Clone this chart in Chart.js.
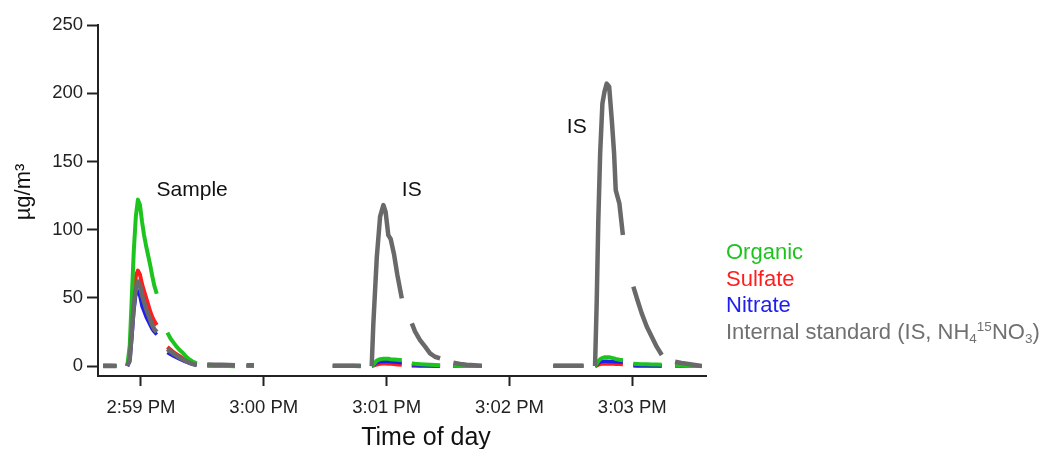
<!DOCTYPE html>
<html>
<head>
<meta charset="utf-8">
<script src="https://cdn.jsdelivr.net/npm/chart.js@4.4.1/dist/chart.umd.min.js"></script>
<style>
  html, body { margin: 0; padding: 0; background: #fff; }
  #wrap { position: relative; width: 1044px; height: 449px; overflow: hidden; }
  #legend {
    position: absolute; left: 726px; top: 239px;
    font-family: "Liberation Sans", Arial, sans-serif; font-size: 22px;
  }
  #legend div { line-height: 26.5px; height: 26.5px; white-space: nowrap; }
  #legend sub, #legend sup { font-size: 13.5px; line-height: 0; }
  #legend sub { vertical-align: -4px; }
  #legend sup { vertical-align: 8px; }
</style>
</head>
<body>
<div id="wrap">
  <canvas id="chart" width="1044" height="449"></canvas>
  <div id="legend">
    <div style="color:#1ec41e">Organic</div>
    <div style="color:#ff1e1e">Sulfate</div>
    <div style="color:#1e1eee">Nitrate</div>
    <div style="color:#707070">Internal standard (IS, NH<sub>4</sub><sup>15</sup>NO<sub>3</sub>)</div>
  </div>
</div>
<script>
// ─── DATA ─────────────────────────────────────────────────
// time = seconds after 2:59:00 PM; null rows are gaps in the record
const times = [
  -18.5, -15.2, -12, -9.3,
  -6.7, -5.5, -4.5, -3.5, -2.5, -1.5, -0.5, 0.5, 1.5, 2.5, 3.5, 4.5, 5.5, 6.5, 7.7, 10.3,
  12.9, 14.5, 16, 17.5, 19, 20.5, 22, 23.5, 25, 27.2, 30,
  32.4, 36, 39.5, 43, 45.9, 49,
  51.6, 55.2, 75,
  93.7, 97, 100.5, 104, 107.3, 110,
  112.7, 113.5, 115.2, 116.8, 118.4, 119.5, 120.8, 122, 123.6, 125.2, 127.4, 130,
  132.3, 133.9, 136.3, 138.8, 141.2, 143.6, 146.1, 149.4,
  152.6, 155.9, 159.1, 162.8, 166.5, 185,
  201.5, 205, 208.5, 212, 216.1, 219,
  221.8, 222.6, 223.4, 224.3, 225.4, 226.4, 227.5, 228.7, 230, 231.1, 231.9, 233.7, 235.4, 238,
  240.5, 242.5, 244.6, 247.1, 249.5, 251.9, 254.4, 257.6,
  260.9, 264, 267.4, 270.6, 273.9,
];

const organic = [
  0, 0, 0, null,
  0, 15, 50, 85, 110, 122, 118, 106, 96, 88, 81, 74, 66, 59, 53, null,
  24.5, 20, 17, 14, 11.5, 9.5, 7, 5, 3.5, 2, null,
  0.3, 0.2, 0, 0, -0.2, null,
  0.1, 0, null,
  0, 0, 0, 0, 0, null,
  0, 1, 4, 5, 5.3, 5.4, 5.3, 5, 4.8, 4.6, 4.2, null,
  1.8, 1.6, 1.4, 1.2, 1, 0.8, 0.6, null,
  0.2, 0.1, 0, 0, 0, null,
  0, 0, 0, 0, 0, null,
  0, 1.5, 3.5, 5, 6, 6.4, 6.5, 6.4, 6, 5.6, 5.2, 4.6, 4.2, null,
  1.6, 1.5, 1.4, 1.3, 1.2, 1.1, 1, null,
  0.3, 0.2, 0, 0, 0,
];

const sulfate = [
  0.4, 0.4, 0.3, null,
  0, 8, 30, 52, 66, 70, 67, 60, 55, 50, 45, 40, 36, 33, 30, null,
  14, 12, 10, 8.5, 7, 5.5, 4, 3, 2, 1, null,
  0.5, 0.4, 0.3, 0.3, 0.2, null,
  0.3, 0.2, null,
  0.2, 0.2, 0.2, 0.2, 0.2, null,
  0, 0.3, 1.2, 1.6, 1.8, 1.8, 1.7, 1.6, 1.4, 1.2, 1, null,
  0.3, 0.2, 0.1, 0, 0, 0, 0, null,
  0, 0, 0, 0, 0, null,
  0.2, 0.2, 0.2, 0.2, 0.2, null,
  0, 0.4, 1, 1.4, 1.6, 1.7, 1.7, 1.7, 1.6, 1.6, 1.5, 1.5, 1.4, null,
  0.2, 0.1, 0, 0, 0, 0, 0, null,
  0, 0, 0, 0, 0,
];

const nitrate = [
  0, 0, 0, null,
  0, 3, 20, 40, 53, 55, 51, 44, 40, 36, 33, 30, 27, 25, 23, null,
  10, 8.5, 7.3, 6.2, 5, 4, 3, 2.2, 1.4, 0.6, null,
  0.4, 0.3, 0.3, 0.2, 0.2, null,
  0.2, 0.1, null,
  0, 0, 0, 0, 0, null,
  0, 0.7, 2.5, 3.2, 3.4, 3.4, 3.3, 3.1, 2.9, 2.7, 2.4, null,
  0.8, 0.7, 0.6, 0.5, 0.4, 0.3, 0.3, null,
  0, 0, 0, 0, 0, null,
  0, 0, 0, 0, 0, null,
  0, 0.8, 2, 3, 3.4, 3.5, 3.5, 3.4, 3.3, 3.2, 3.1, 3, 2.9, null,
  0.7, 0.6, 0.5, 0.5, 0.4, 0.4, 0.3, null,
  0, 0, 0, 0, 0,
];

const internalStd = [
  0, 0, 0, null,
  0, 5, 25, 45, 57, 62, 59, 52, 47, 42, 38, 34, 30, 27, 25, null,
  12.5, 10.5, 9, 7.5, 6, 4.8, 3.6, 2.6, 1.6, 0.8, null,
  1.2, 1, 0.9, 0.7, 0.6, null,
  0.5, 0.5, null,
  0.3, 0.2, 0.2, 0.2, 0.1, null,
  0, 31, 80, 109.5, 118, 113, 96, 93, 82, 67, 49.6, null,
  31.3, 25.2, 19, 14.2, 9.3, 6.8, 5.6, null,
  2.4, 1.5, 0.9, 0.5, 0.2, null,
  0.3, 0.3, 0.2, 0.2, 0.2, null,
  0, 46, 107, 156, 192.6, 201, 207, 204.8, 180, 156, 129, 119, 96, null,
  58.2, 48.4, 38.6, 28.8, 21.5, 14.2, 8.1, null,
  3.2, 2.2, 1.5, 0.8, 0,
];

// x ticks (seconds after 2:59:00 PM) and their labels
const tickTimes  = [0, 60, 120, 180, 240];
const tickLabels = ['2:59 PM', '3:00 PM', '3:01 PM', '3:02 PM', '3:03 PM'];
const yTicks     = [0, 50, 100, 150, 200, 250];

// peak annotations
const notes = [
  { text: 'Sample', t: 7.6,   v: 124.6 },
  { text: 'IS',     t: 127.4, v: 124.6 },
  { text: 'IS',     t: 208,   v: 170.8 },
];

// ─── HELPERS ──────────────────────────────────────────────
const FONT = '"Liberation Sans", Arial, Helvetica, sans-serif';
const pts = vals => times.map((t, i) => ({ x: t, y: vals[i] }));

const series = (label, vals, color, width, order) => ({
  label,
  data: pts(vals),
  borderColor: color,
  backgroundColor: color,
  borderWidth: width,
  pointRadius: 0,
  tension: 0,
  spanGaps: false,
  borderJoinStyle: 'round',
  order,
});

// ─── TEXT PLUGIN (annotations + axis titles) ──────────────
const textPlugin = {
  id: 'texts',
  afterDraw(chart) {
    const { ctx, chartArea, scales: { x, y } } = chart;
    ctx.save();
    ctx.fillStyle = '#111';
    ctx.textBaseline = 'alphabetic';
    ctx.font = '21px ' + FONT;
    notes.forEach(n => {
      ctx.fillText(n.text, x.getPixelForValue(n.t), y.getPixelForValue(n.v));
    });

    // x axis title
    ctx.textAlign = 'center';
    ctx.font = '25px ' + FONT;
    ctx.fillText('Time of day', (chartArea.left + chartArea.right) / 2 + 24, 445);

    // y axis title
    ctx.translate(30, 192);
    ctx.rotate(-Math.PI / 2);
    ctx.font = '22px ' + FONT;
    ctx.fillText('µg/m³', 0, 0);
    ctx.restore();
  },
};

// ─── CHART ────────────────────────────────────────────────
new Chart(document.getElementById('chart'), {
  type: 'line',
  data: {
    datasets: [
      series('Organic', organic, '#1ec41e', 4, 1),
      series('Sulfate', sulfate, '#ff1e1e', 4, 3),
      series('Nitrate', nitrate, '#1e1eee', 3.5, 2),
      series('Internal standard (IS, NH4 15NO3)', internalStd, '#696969', 4.5, 0),
    ],
  },
  options: {
    responsive: false,
    animation: false,
    layout: { padding: { top: 25, right: 338, left: 0, bottom: 0 } },
    plugins: {
      legend: { display: false },
      tooltip: { enabled: false },
    },
    scales: {
      x: {
        type: 'linear',
        min: -21,
        max: 276,
        afterBuildTicks: s => { s.ticks = tickTimes.map(v => ({ value: v })); },
        afterFit: s => { s.height = 73; },
        grid: { drawOnChartArea: false, drawTicks: true, tickLength: 10, tickWidth: 2, tickColor: '#222' },
        border: { display: true, color: '#222', width: 2 },
        ticks: {
          color: '#222',
          font: { family: FONT, size: 18.5 },
          padding: 11,
          maxRotation: 0,
          callback: v => tickLabels[tickTimes.indexOf(v)] ?? '',
        },
      },
      y: {
        min: -7.3,
        max: 250,
        afterBuildTicks: s => { s.ticks = yTicks.map(v => ({ value: v })); },
        afterFit: s => { s.width = 98; },
        grid: { drawOnChartArea: false, drawTicks: true, tickLength: 11, tickWidth: 2, tickColor: '#222' },
        border: { display: true, color: '#222', width: 2 },
        ticks: {
          color: '#222',
          font: { family: FONT, size: 18.5 },
          padding: 4,
        },
      },
    },
  },
  plugins: [textPlugin],
});
</script>
</body>
</html>
